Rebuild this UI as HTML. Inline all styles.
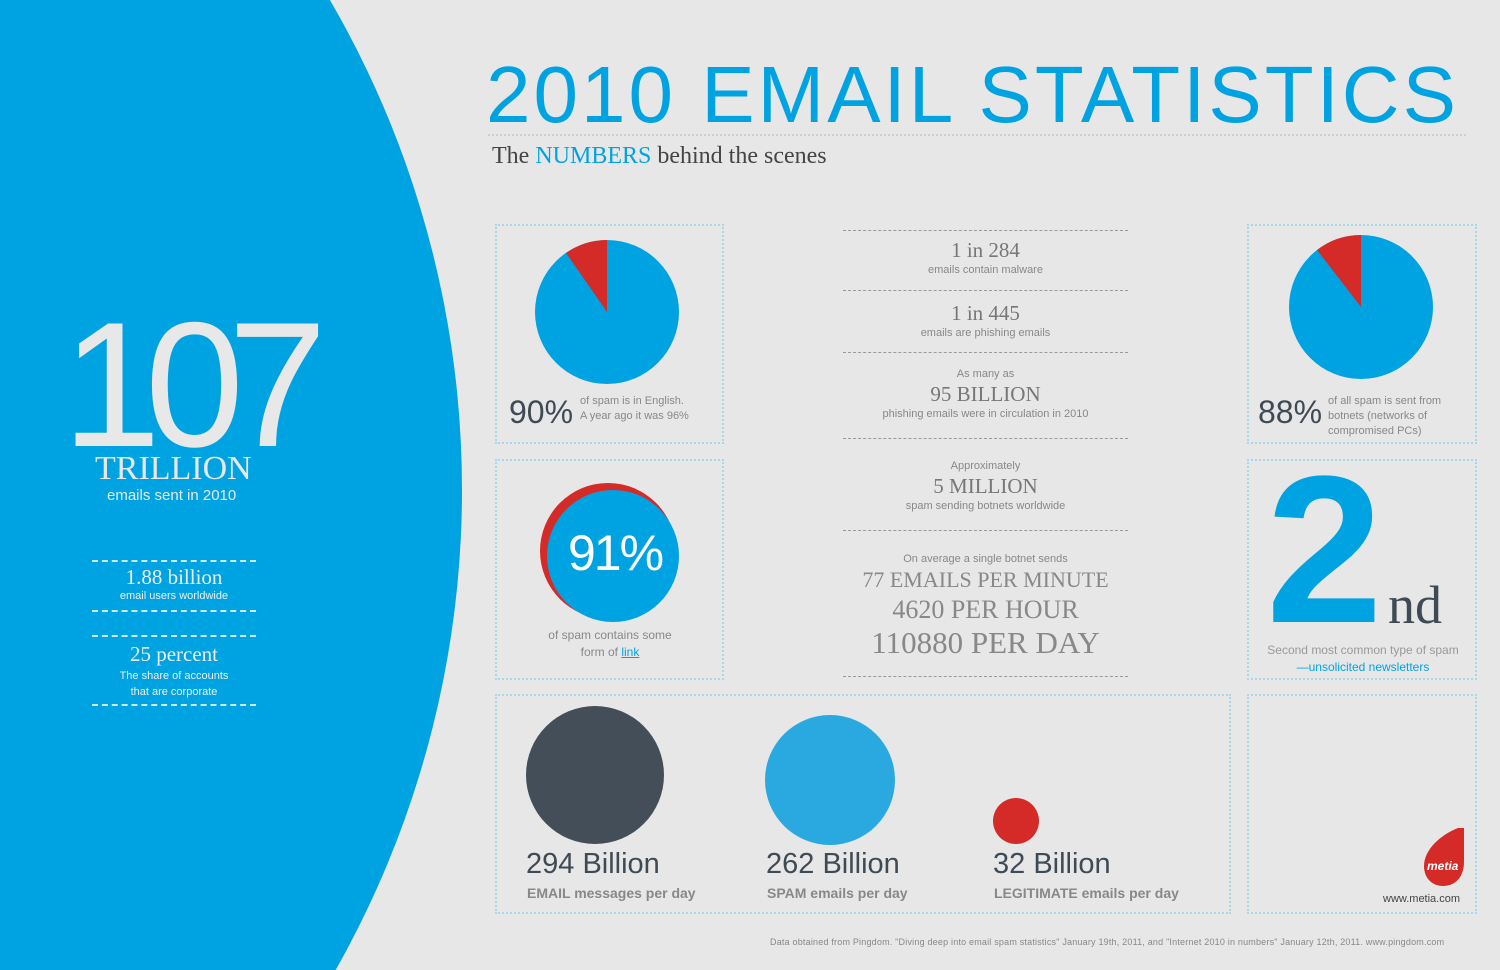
<!DOCTYPE html>
<html><head><meta charset="utf-8"><style>
*{margin:0;padding:0;box-sizing:border-box}
html,body{width:1500px;height:970px;overflow:hidden}
body{background:#e7e7e7;position:relative;font-family:"Liberation Sans",sans-serif}
.a{position:absolute;white-space:nowrap}
.box{position:absolute;border:2px dotted #a9d6e8}
.c{text-align:center}
.serif{font-family:"Liberation Serif",serif}
.hl{position:absolute;left:843px;width:285px;border-top:1px dashed #9a9a9a}
.wl{position:absolute;left:92px;width:164px;border-top:2px dashed #cfeaf7}
</style></head><body>
<svg class="a" style="left:0;top:0" width="1500" height="970">
<circle cx="-513" cy="490" r="975" fill="#00a3e2"/>
<circle cx="607" cy="312" r="72" fill="#00a3e2"/>
<path d="M607,312 L607,240 A72,72 0 0 0 566,253 Z" fill="#d52b28"/>
<circle cx="1361" cy="307" r="72" fill="#00a3e2"/>
<path d="M1361,307 L1361,235 A72,72 0 0 0 1317,250 Z" fill="#d52b28"/>
<circle cx="608" cy="551" r="68" fill="#d52b28"/>
<circle cx="613" cy="556" r="66" fill="#00a3e2"/>
<circle cx="595" cy="775" r="69" fill="#434e59"/>
<circle cx="830" cy="780" r="65" fill="#2aa9e1"/>
<circle cx="1016" cy="821" r="23" fill="#d52b28"/>
<path d="M1458,828 C1440,835 1424,850 1424,866 C1424,878 1432,886 1443,886 C1456,886 1464,876 1464,862 L1464,828 Z" fill="#d52b28"/>
<line x1="488" y1="135" x2="1468" y2="135" stroke="#b5b5b5" stroke-dasharray="2,2"/>
</svg>
<div class="a" style="left:486px;top:52px;font-size:80px;color:#00a3e2;letter-spacing:3px;line-height:86px">2010 EMAIL STATISTICS</div>
<div class="a serif" style="left:492px;top:142px;font-size:24px;color:#444;line-height:28px">The <span style="color:#00a3e2">NUMBERS</span> behind the scenes</div>

<div class="a" style="left:62px;top:290px;font-size:178px;color:#e8e8e8;letter-spacing:-16px;line-height:190px">107</div>
<div class="a serif" style="left:95px;top:450px;font-size:34px;color:#e8e8e8;line-height:38px">TRILLION</div>
<div class="a" style="left:107px;top:487px;font-size:15px;color:#e8e8e8">emails sent in 2010</div>
<div class="wl" style="top:560px"></div>
<div class="a serif c" style="left:92px;width:164px;top:565px;font-size:21px;color:#eee">1.88 billion</div>
<div class="a c" style="left:92px;width:164px;top:590px;font-size:11px;color:#eee">email users worldwide</div>
<div class="wl" style="top:610px"></div>
<div class="wl" style="top:635px"></div>
<div class="a serif c" style="left:92px;width:164px;top:642px;font-size:21px;color:#eee">25 percent</div>
<div class="a c" style="left:92px;width:164px;top:668px;font-size:11px;color:#eee;line-height:16px;white-space:normal">The share of accounts<br>that are corporate</div>
<div class="wl" style="top:704px"></div>

<div class="box" style="left:495px;top:224px;width:229px;height:220px"></div>
<div class="box" style="left:495px;top:459px;width:229px;height:221px"></div>
<div class="box" style="left:1247px;top:224px;width:230px;height:220px"></div>
<div class="box" style="left:1247px;top:459px;width:230px;height:221px"></div>
<div class="box" style="left:495px;top:694px;width:736px;height:220px"></div>
<div class="box" style="left:1247px;top:694px;width:230px;height:220px"></div>

<div class="a" style="left:509px;top:394px;font-size:32px;color:#3f4a55">90%</div>
<div class="a" style="left:580px;top:394px;font-size:11px;color:#888;line-height:15px">of spam is in English.<br>A year ago it was 96%</div>
<div class="a" style="left:1258px;top:394px;font-size:32px;color:#3f4a55">88%</div>
<div class="a" style="left:1328px;top:394px;font-size:11px;color:#888;line-height:15px">of all spam is sent from<br>botnets (networks of<br>compromised PCs)</div>
<div class="a" style="left:568px;top:524px;font-size:50px;color:#fff;letter-spacing:-2px">91%</div>
<div class="a c" style="left:500px;width:220px;top:627px;font-size:12px;color:#888;line-height:17px">of spam contains some<br>form of <span style="color:#00a3e2;text-decoration:underline">link</span></div>

<div class="a" style="left:1266px;top:440px;font-size:210px;color:#00a3e2;font-weight:bold;line-height:220px;height:220px;overflow:hidden">2</div>
<div class="a serif" style="left:1388px;top:575px;font-size:54px;color:#3f4a55;line-height:60px">nd</div>
<div class="a c" style="left:1249px;width:228px;top:643px;font-size:12px;color:#999">Second most common type of spam</div>
<div class="a c" style="left:1249px;width:228px;top:660px;font-size:12px;color:#00a3e2">—unsolicited newsletters</div>
<div class="a" style="left:1427px;top:859px;font-size:12px;color:#fff;font-weight:bold;font-style:italic">metia</div>
<div class="a" style="left:1383px;top:893px;font-size:11px;color:#444">www.metia.com</div>

<div class="hl" style="top:230px"></div>
<div class="a serif c" style="left:843px;width:285px;top:238px;font-size:21px;color:#777">1 in 284</div>
<div class="a c" style="left:843px;width:285px;top:264px;font-size:11px;color:#888">emails contain malware</div>
<div class="hl" style="top:290px"></div>
<div class="a serif c" style="left:843px;width:285px;top:301px;font-size:21px;color:#777">1 in 445</div>
<div class="a c" style="left:843px;width:285px;top:327px;font-size:11px;color:#888">emails are phishing emails</div>
<div class="hl" style="top:352px"></div>
<div class="a c" style="left:843px;width:285px;top:368px;font-size:11px;color:#888">As many as</div>
<div class="a serif c" style="left:843px;width:285px;top:382px;font-size:21px;color:#777">95 BILLION</div>
<div class="a c" style="left:843px;width:285px;top:408px;font-size:11px;color:#888">phishing emails were in circulation in 2010</div>
<div class="hl" style="top:438px"></div>
<div class="a c" style="left:843px;width:285px;top:460px;font-size:11px;color:#888">Approximately</div>
<div class="a serif c" style="left:843px;width:285px;top:474px;font-size:21px;color:#777">5 MILLION</div>
<div class="a c" style="left:843px;width:285px;top:500px;font-size:11px;color:#888">spam sending botnets worldwide</div>
<div class="hl" style="top:530px"></div>
<div class="a c" style="left:843px;width:285px;top:553px;font-size:11px;color:#888">On average a single botnet sends</div>
<div class="a serif c" style="left:843px;width:285px;top:567px;font-size:22px;color:#888">77 EMAILS PER MINUTE</div>
<div class="a serif c" style="left:843px;width:285px;top:595px;font-size:26px;color:#888">4620 PER HOUR</div>
<div class="a serif c" style="left:843px;width:285px;top:625px;font-size:31px;color:#888">110880 PER DAY</div>
<div class="hl" style="top:676px"></div>

<div class="a" style="left:526px;top:848px;font-size:29px;color:#3f4a55">294 Billion</div>
<div class="a" style="left:527px;top:885px;font-size:14px;color:#888;font-weight:bold">EMAIL messages per day</div>
<div class="a" style="left:766px;top:848px;font-size:29px;color:#3f4a55">262 Billion</div>
<div class="a" style="left:767px;top:885px;font-size:14px;color:#888;font-weight:bold">SPAM emails per day</div>
<div class="a" style="left:993px;top:848px;font-size:29px;color:#3f4a55">32 Billion</div>
<div class="a" style="left:994px;top:885px;font-size:14px;color:#888;font-weight:bold">LEGITIMATE emails per day</div>

<div class="a" style="left:770px;top:936px;font-size:9px;color:#888;letter-spacing:0.2px;line-height:12px">Data obtained from Pingdom. "Diving deep into email spam statistics" January 19th, 2011, and "Internet 2010 in numbers" January 12th, 2011. www.pingdom.com</div>
</body></html>
